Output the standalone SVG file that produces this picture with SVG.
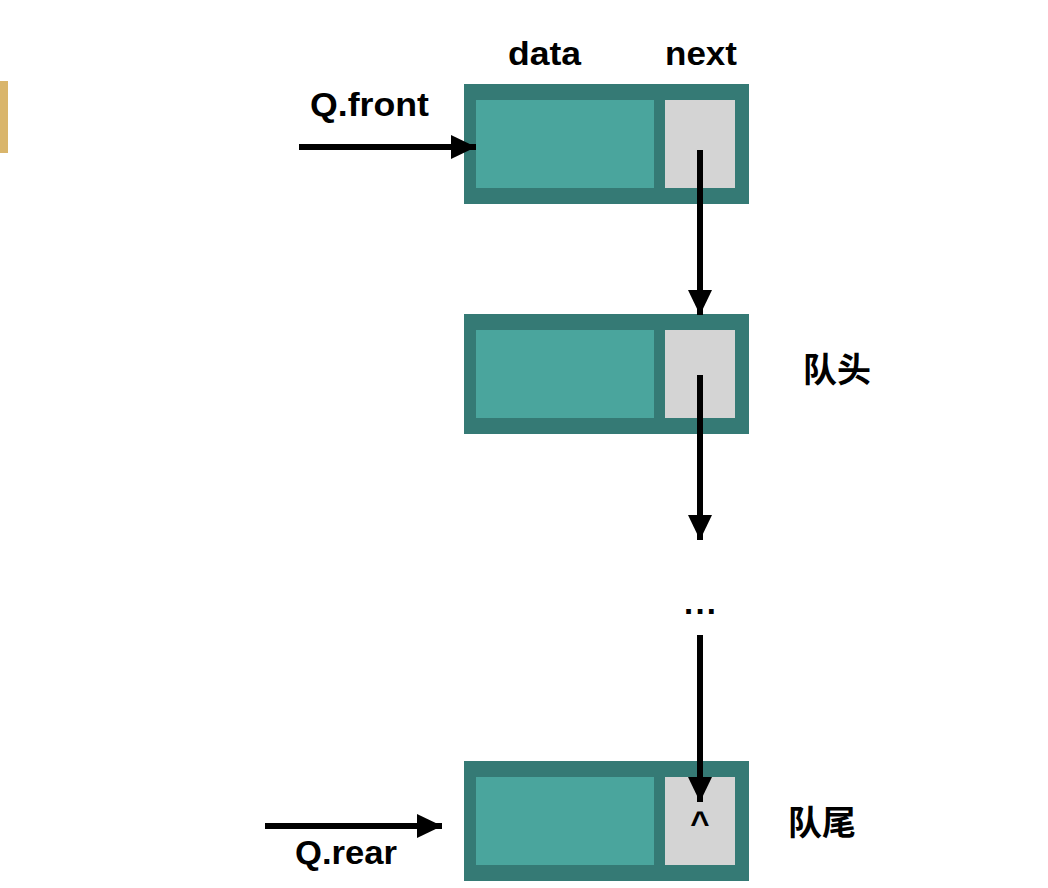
<svg xmlns="http://www.w3.org/2000/svg" width="1048" height="888" viewBox="0 0 1048 888">
  <style>
    .outer { fill: #357a75; }
    .data { fill: #4aa59d; }
    .next { fill: #d4d4d4; }
    .lbl { font-family: "Liberation Sans", Arial, sans-serif; font-weight: bold; font-size: 33px; fill: #000; }
    .cjk { font-family: "Noto Sans CJK SC", sans-serif; font-weight: bold; font-size: 34px; fill: #000; }
    .conn { stroke: #000; stroke-width: 6; fill: none; }
  </style>
  <defs>
    <marker id="arrow" markerUnits="userSpaceOnUse" markerWidth="26" markerHeight="26" viewBox="0 0 26 26" refX="25" refY="13" orient="auto">
      <path d="M0,1 L25,13 L0,25 Z" fill="#000"/>
    </marker>
  </defs>
  <rect width="1048" height="888" fill="#fff"/>
  <rect x="0" y="81" width="8" height="72" fill="#d9b56b"/>

  <g id="labels">
    <text class="lbl" x="508" y="65" textLength="73" lengthAdjust="spacingAndGlyphs">data</text>
    <text class="lbl" x="665" y="65" textLength="72" lengthAdjust="spacingAndGlyphs">next</text>
  </g>

  <g id="node1">
    <rect class="outer" x="464" y="84" width="285" height="120"/>
    <rect class="data" x="476" y="100" width="178" height="88"/>
    <rect class="next" x="665" y="100" width="70" height="88"/>
  </g>
  <g id="node2">
    <rect class="outer" x="464" y="314" width="285" height="120"/>
    <rect class="data" x="476" y="330" width="178" height="88"/>
    <rect class="next" x="665" y="330" width="70" height="88"/>
  </g>
  <g id="ellipsis">
    <text class="lbl" x="684" y="614" font-size="34" textLength="32" lengthAdjust="spacing">...</text>
  </g>
  <g id="node4">
    <rect class="outer" x="464" y="761" width="285" height="120"/>
    <rect class="data" x="476" y="777" width="178" height="88"/>
    <rect class="next" x="665" y="777" width="70" height="88"/>
    <text class="lbl" x="700" y="834" text-anchor="middle" font-size="32">^</text>
  </g>

  <g id="qfront">
    <text class="lbl" x="310" y="116" textLength="119" lengthAdjust="spacingAndGlyphs">Q.front</text>
  </g>
  <g id="qrear">
    <text class="lbl" x="295" y="864" textLength="102" lengthAdjust="spacingAndGlyphs">Q.rear</text>
  </g>
  <g id="head-label">
    <text class="cjk" x="803" y="382">队头</text>
  </g>
  <g id="tail-label">
    <text class="cjk" x="788" y="835">队尾</text>
  </g>

  <g id="connectors">
    <line class="conn" x1="299" y1="147" x2="476" y2="147" marker-end="url(#arrow)"/>
    <line class="conn" x1="700" y1="150" x2="700" y2="315" marker-end="url(#arrow)"/>
    <line class="conn" x1="700" y1="375" x2="700" y2="540" marker-end="url(#arrow)"/>
    <line class="conn" x1="700" y1="635" x2="700" y2="802" marker-end="url(#arrow)"/>
    <line class="conn" x1="265" y1="826" x2="442" y2="826" marker-end="url(#arrow)"/>
  </g>
</svg>
